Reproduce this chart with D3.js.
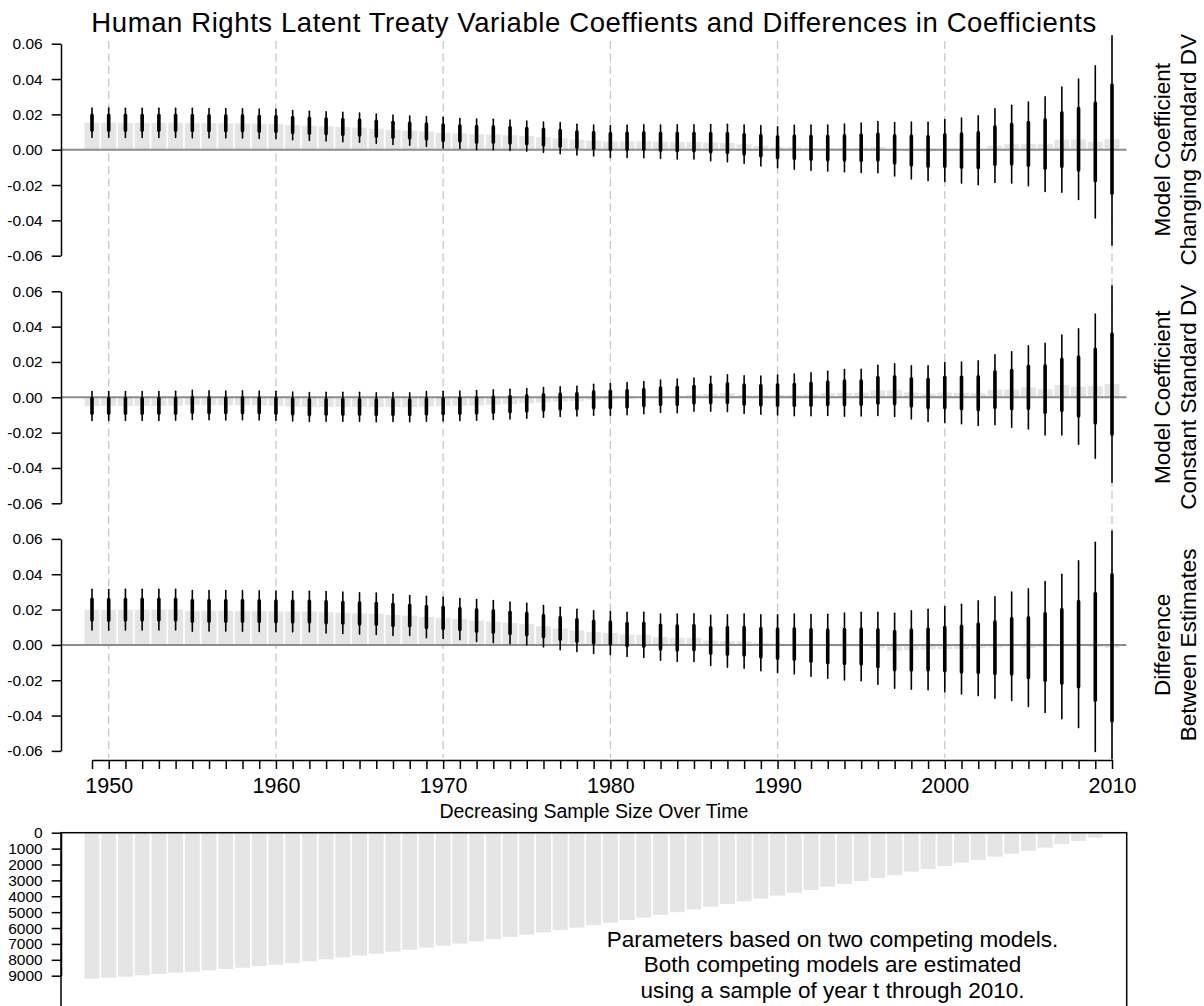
<!DOCTYPE html>
<meta charset="utf-8">
<script src="https://d3js.org/d3.v7.min.js"></script>
<style>
body { margin: 0; background: #fff; }
svg { font-family: "Liberation Sans", Arial, Helvetica, sans-serif; }
.axis path, .axis line { stroke: #000; stroke-width: 1.5px; }
.axis text { fill: #000; }
</style>
<svg width="1204" height="1006"></svg>
<script>

// years of the rolling samples (year t through 2010)
var years = [1949,1950,1951,1952,1953,1954,1955,1956,1957,1958,1959,1960,1961,1962,1963,1964,1965,1966,1967,1968,
  1969,1970,1971,1972,1973,1974,1975,1976,1977,1978,1979,1980,1981,1982,1983,1984,1985,1986,1987,1988,
  1989,1990,1991,1992,1993,1994,1995,1996,1997,1998,1999,2000,2001,2002,2003,2004,2005,2006,2007,2008,2009,2010];

// model with changing standard DV
var changingMean = [0.0153,0.0153,0.0152,0.0152,0.0152,0.0152,0.0151,0.0150,0.0150,0.0149,0.0147,0.0145,0.0139,0.0135,0.0132,0.0128,0.0125,0.0119,0.0113,0.0108,
  0.0103,0.0096,0.0092,0.0087,0.0086,0.0082,0.0077,0.0071,0.0065,0.0057,0.0052,0.0046,0.0048,0.0048,0.0045,0.0044,0.0044,0.0040,0.0038,0.0031,
  0.0022,0.0014,0.0014,0.0011,0.0009,0.0010,0.0011,0.0015,0.0002,-0.0005,-0.0010,-0.0005,-0.0005,-0.0003,0.0023,0.0031,0.0033,0.0032,0.0057,0.0059,0.0044,0.0060];
var changingCI = [0.0083,0.0083,0.0083,0.0083,0.0083,0.0083,0.0083,0.0083,0.0083,0.0083,0.0083,0.0083,0.0083,0.0083,0.0083,0.0083,0.0083,0.0083,0.0083,0.0083,
  0.0084,0.0087,0.0085,0.0087,0.0086,0.0086,0.0085,0.0086,0.0088,0.0087,0.0088,0.0090,0.0092,0.0093,0.0094,0.0097,0.0097,0.0102,0.0106,0.0108,
  0.0114,0.0116,0.0124,0.0128,0.0130,0.0135,0.0140,0.0145,0.0151,0.0161,0.0165,0.0175,0.0184,0.0195,0.0208,0.0220,0.0237,0.0268,0.0298,0.0341,0.0431,0.0600];

// model with constant standard DV
var constantMean = [-0.0049,-0.0049,-0.0049,-0.0049,-0.0049,-0.0048,-0.0043,-0.0045,-0.0046,-0.0045,-0.0046,-0.0048,-0.0052,-0.0055,-0.0054,-0.0054,-0.0054,-0.0056,-0.0055,-0.0056,
  -0.0052,-0.0050,-0.0048,-0.0046,-0.0042,-0.0039,-0.0035,-0.0029,-0.0024,-0.0022,-0.0014,-0.0012,-0.0008,-0.0002,0.0006,0.0008,0.0015,0.0020,0.0023,0.0015,
  0.0012,0.0013,0.0014,0.0017,0.0022,0.0025,0.0026,0.0039,0.0040,0.0028,0.0021,0.0027,0.0025,0.0023,0.0043,0.0044,0.0056,0.0046,0.0070,0.0061,0.0063,0.0075];
var constantCI = [0.0082,0.0082,0.0082,0.0082,0.0082,0.0082,0.0082,0.0082,0.0082,0.0082,0.0082,0.0082,0.0082,0.0082,0.0082,0.0082,0.0082,0.0082,0.0082,0.0082,
  0.0084,0.0084,0.0084,0.0084,0.0084,0.0084,0.0084,0.0084,0.0084,0.0084,0.0088,0.0090,0.0091,0.0091,0.0092,0.0095,0.0094,0.0099,0.0104,0.0106,
  0.0108,0.0113,0.0118,0.0121,0.0125,0.0132,0.0132,0.0142,0.0149,0.0151,0.0158,0.0169,0.0175,0.0183,0.0198,0.0214,0.0235,0.0259,0.0283,0.0327,0.0408,0.0556];

// difference between the two estimates
var diffMean = [0.0200,0.0198,0.0200,0.0200,0.0200,0.0200,0.0192,0.0193,0.0193,0.0192,0.0191,0.0190,0.0189,0.0189,0.0185,0.0182,0.0178,0.0176,0.0170,0.0166,
  0.0158,0.0153,0.0146,0.0138,0.0132,0.0125,0.0118,0.0106,0.0093,0.0082,0.0072,0.0067,0.0059,0.0057,0.0044,0.0040,0.0041,0.0025,0.0022,0.0021,
  0.0012,0.0007,0.0005,-0.0003,-0.0008,-0.0009,-0.0009,-0.0019,-0.0033,-0.0029,-0.0026,-0.0024,-0.0024,-0.0019,-0.0015,-0.0008,-0.0016,-0.0012,-0.0009,0.0004,-0.0011,-0.0017];
var diffCI = [0.0115,0.0115,0.0115,0.0115,0.0115,0.0115,0.0115,0.0115,0.0115,0.0115,0.0115,0.0115,0.0115,0.0115,0.0117,0.0117,0.0117,0.0117,0.0117,0.0113,
  0.0117,0.0117,0.0116,0.0119,0.0119,0.0118,0.0118,0.0117,0.0120,0.0120,0.0121,0.0122,0.0125,0.0128,0.0131,0.0134,0.0135,0.0142,0.0148,0.0153,
  0.0158,0.0163,0.0169,0.0175,0.0181,0.0189,0.0194,0.0204,0.0212,0.0222,0.0228,0.0241,0.0254,0.0268,0.0287,0.0307,0.0333,0.0371,0.0409,0.0472,0.0592,0.0810];

// sample size of year t through 2010
var sampleN = [9190,9125,9060,8975,8890,8810,8750,8660,8580,8500,8390,8310,8200,8090,7970,7840,7740,7615,7490,7370,
  7240,7110,6980,6840,6700,6560,6420,6270,6120,5970,5820,5660,5500,5340,5170,5000,4830,4660,4490,4320,
  4140,3960,3780,3606,3398,3229,3040,2851,2662,2454,2284,2096,1888,1718,1510,1322,1133,944,711,522,315,100];

var coefTicks = [-0.06,-0.04,-0.02,0,0.02,0.04,0.06];
var nTicks = [0,1000,2000,3000,4000,5000,6000,7000,8000,9000];
var yearTicks = [1950,1960,1970,1980,1990,2000,2010];

var panels = [
  {mean: changingMean, ci: changingCI, label: ["Model Coefficient", "Changing Standard DV"]},
  {mean: constantMean, ci: constantCI, label: ["Model Coefficient", "Constant Standard DV"]},
  {mean: diffMean, ci: diffCI, label: ["Difference", "Between Estimates"]}
];

var svg = d3.select("svg");
var left = 61, right = 1126.7;
var barW = 15;
var grey = "#e5e5e5";

var x = d3.scaleLinear().domain([1949, 2010]).range([92, 1112]);

svg.append("text")
    .attr("x", (left + right) / 2)
    .attr("y", 32)
    .attr("text-anchor", "middle")
    .attr("textLength", 1005)
    .attr("lengthAdjust", "spacing")
    .style("font-size", "27.5px")
    .text("Human Rights Latent Treaty Variable Coeffients and Differences in Coefficients");

// dashed decade lines run through all three panels
svg.append("g").selectAll("line")
    .data(yearTicks)
  .enter().append("line")
    .attr("x1", function(d) { return x(d); })
    .attr("x2", function(d) { return x(d); })
    .attr("y1", 41)
    .attr("y2", 758)
    .attr("stroke", "#c8c8c8")
    .attr("stroke-width", 1.3)
    .attr("stroke-dasharray", "8,4.5");

var fmt = function(d) { return d.toFixed(2); };

panels.forEach(function(p, i) {
  var top = 43.7 + i * 247.6;
  var y = d3.scaleLinear().domain([-0.06, 0.06]).range([top + 212, top]);
  var rows = years.map(function(yr, j) { return {year: yr, m: p.mean[j], ci: p.ci[j]}; });

  svg.append("clipPath").attr("id", "clip" + i)
    .append("rect")
      .attr("x", left)
      .attr("y", y(0.0648))
      .attr("width", right - left)
      .attr("height", y(-0.0648) - y(0.0648));

  var g = svg.append("g").attr("clip-path", "url(#clip" + i + ")");

  g.selectAll(".bar")
      .data(rows)
    .enter().append("rect")
      .attr("class", "bar")
      .attr("x", function(d) { return x(d.year) - barW / 2; })
      .attr("width", barW)
      .attr("y", function(d) { return Math.min(y(d.m), y(0)); })
      .attr("height", function(d) { return Math.abs(y(d.m) - y(0)); })
      .attr("fill", grey);

  g.append("line")
      .attr("x1", left).attr("x2", right)
      .attr("y1", y(0)).attr("y2", y(0))
      .attr("stroke", "#8c8c8c")
      .attr("stroke-width", 2);

  // 95% interval
  g.selectAll(".thin")
      .data(rows)
    .enter().append("line")
      .attr("class", "thin")
      .attr("x1", function(d) { return x(d.year); })
      .attr("x2", function(d) { return x(d.year); })
      .attr("y1", function(d) { return y(d.m + d.ci); })
      .attr("y2", function(d) { return y(d.m - d.ci); })
      .attr("stroke", "#000")
      .attr("stroke-width", 1.6)
      .attr("stroke-linecap", "round");

  // one standard error
  g.selectAll(".thick")
      .data(rows)
    .enter().append("line")
      .attr("class", "thick")
      .attr("x1", function(d) { return x(d.year); })
      .attr("x2", function(d) { return x(d.year); })
      .attr("y1", function(d) { return y(d.m + d.ci / 1.96); })
      .attr("y2", function(d) { return y(d.m - d.ci / 1.96); })
      .attr("stroke", "#000")
      .attr("stroke-width", 3.6)
      .attr("stroke-linecap", "round");

  svg.append("g")
      .attr("class", "axis")
      .attr("transform", "translate(" + left + ",0)")
      .call(d3.axisLeft(y).tickValues(coefTicks).tickFormat(fmt).tickSize(9.3).tickSizeOuter(0).tickPadding(9))
      .style("font-size", "15.5px")
      .style("font-family", null);

  var lab = svg.append("text")
      .attr("transform", "translate(1170," + y(0) + ") rotate(-90)")
      .attr("text-anchor", "middle")
      .style("font-size", "22.5px");
  lab.append("tspan").attr("x", 0).attr("y", 0).text(p.label[0]);
  lab.append("tspan").attr("x", 0).attr("y", 26).text(p.label[1]);
});

// year axis under the third panel
svg.append("g")
    .attr("class", "axis")
    .attr("transform", "translate(0,760)")
    .call(d3.axisBottom(x).tickValues(years).tickSize(9).tickSizeOuter(0).tickPadding(8.7)
      .tickFormat(function(d) { return d % 10 === 0 ? d : ""; }))
    .style("font-size", "21.5px")
    .style("font-family", null);

// sample size panel
var yn = d3.scaleLinear().domain([0, 9000]).range([832.7, 975.7]);

svg.append("text")
    .attr("x", (left + right) / 2)
    .attr("y", 818)
    .attr("text-anchor", "middle")
    .style("font-size", "19.5px")
    .text("Decreasing Sample Size Over Time");

svg.append("g").selectAll("rect")
    .data(years.map(function(yr, j) { return {year: yr, n: sampleN[j]}; }))
  .enter().append("rect")
    .attr("x", function(d) { return x(d.year) - barW / 2; })
    .attr("width", barW)
    .attr("y", yn(0))
    .attr("height", function(d) { return yn(d.n) - yn(0); })
    .attr("fill", grey);

svg.append("rect")
    .attr("x", left)
    .attr("y", yn(0))
    .attr("width", right - left)
    .attr("height", 200)
    .attr("fill", "none")
    .attr("stroke", "#000")
    .attr("stroke-width", 1.5);

svg.append("g")
    .attr("class", "axis")
    .attr("transform", "translate(" + left + ",0)")
    .call(d3.axisLeft(yn).tickValues(nTicks).tickFormat(function(d) { return d; }).tickSize(9.3).tickSizeOuter(0).tickPadding(9))
    .style("font-size", "15.5px")
    .style("font-family", null);

var note = svg.append("text")
    .attr("text-anchor", "middle")
    .style("font-size", "22.5px");
["Parameters based on two competing models.",
 "Both competing models are estimated",
 "using a sample of year t through 2010."].forEach(function(s, k) {
  note.append("tspan").attr("x", 832.5).attr("y", 946.7 + k * 25.7).text(s);
});

</script>
